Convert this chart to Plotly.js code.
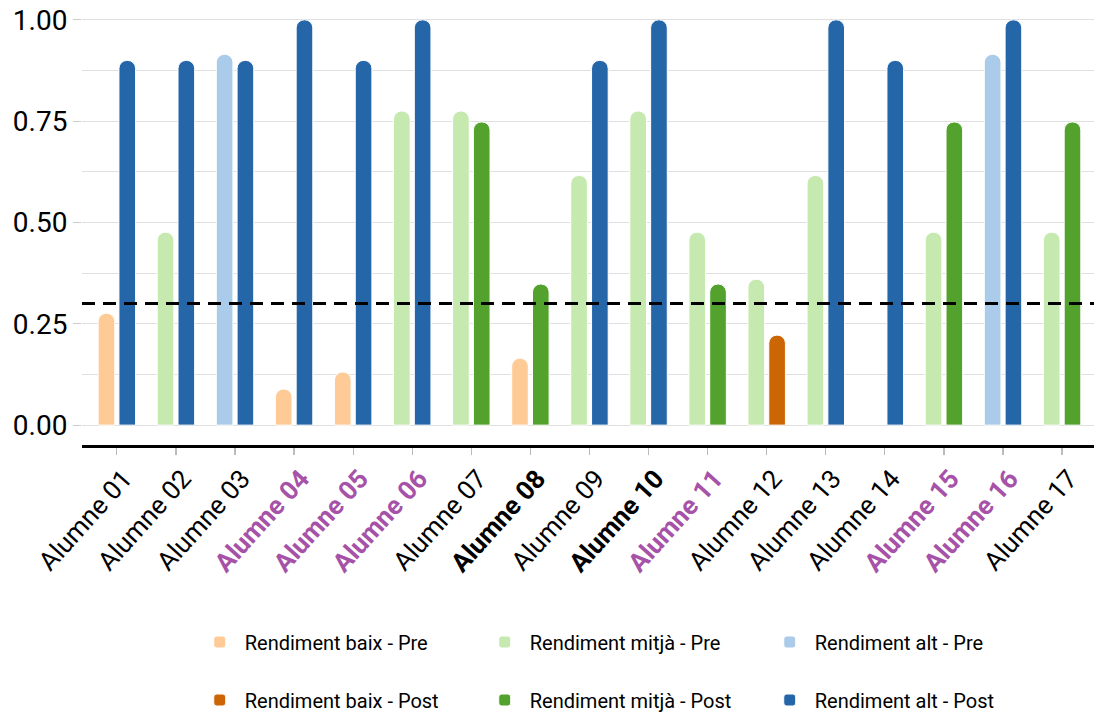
<!DOCTYPE html>
<html>
<head>
<meta charset="utf-8">
<script src="https://cdn.plot.ly/plotly-3.0.1.min.js"></script>
<style>html,body{margin:0;padding:0;background:#fff;}#chart{width:1094px;height:715px;}</style>
</head>
<body>
<div id="chart"></div>
<script>
const students = ['Alumne 01','Alumne 02','Alumne 03','Alumne 04','Alumne 05','Alumne 06','Alumne 07','Alumne 08','Alumne 09','Alumne 10','Alumne 11','Alumne 12','Alumne 13','Alumne 14','Alumne 15','Alumne 16','Alumne 17'];
const preValues  = [0.276, 0.476, 0.915, 0.089, 0.131, 0.775, 0.775, 0.165, 0.616, 0.775, 0.476, 0.36, 0.616, null, 0.476, 0.915, 0.476];
const preLevels  = ['baix','mitjà','alt','baix','baix','mitjà','mitjà','baix','mitjà','mitjà','mitjà','mitjà','mitjà',null,'mitjà','alt','mitjà'];
const postValues = [0.9, 0.9, 0.9, 1.0, 0.9, 1.0, 0.748, 0.348, 0.9, 1.0, 0.348, 0.222, 1.0, 0.9, 0.748, 1.0, 0.748];
const postLevels = ['alt','alt','alt','alt','alt','alt','mitjà','mitjà','alt','alt','mitjà','baix','alt','alt','mitjà','alt','mitjà'];
const purpleStudents = ['Alumne 04','Alumne 05','Alumne 06','Alumne 11','Alumne 15','Alumne 16'];
const boldStudents = ['Alumne 08','Alumne 10'];
const levels = ['baix','mitjà','alt'];
const threshold = 0.3;
const yTicks = [0, 0.25, 0.5, 0.75, 1.0];
const yTickText = ['0.00','0.25','0.50','0.75','1.00'];

const colors = {
  Pre:  {baix:'#fecb96', 'mitjà':'#c6e9af', alt:'#abcbeb'},
  Post: {baix:'#cc6604', 'mitjà':'#53a22d', alt:'#2566a8'}
};

const traces = [];
[['Pre', preValues, preLevels, 'legend'], ['Post', postValues, postLevels, 'legend2']].forEach(([phase, vals, lv, leg]) => {
  levels.forEach(level => {
    traces.push({
      type: 'bar',
      name: 'Rendiment ' + level + ' - ' + phase,
      x: students,
      y: vals.map((v, i) => lv[i] === level ? v : null),
      offsetgroup: phase,
      legend: leg,
      marker: {color: colors[phase][level], cornerradius: 8, line: {color: '#ffffff', width: 1}},
      hoverinfo: 'x+y+name'
    });
  });
});

const tickText = students.map(s => {
  if (purpleStudents.includes(s)) return '<b><span style="color:#a652a8">' + s + '</span></b>';
  if (boldStudents.includes(s)) return '<b>' + s + '</b>';
  return s;
});

const layout = {
  width: 1094, height: 715,
  margin: {l: 82, r: 0, t: 0, b: 270},
  paper_bgcolor: '#ffffff', plot_bgcolor: '#ffffff',
  font: {family: 'Roboto, sans-serif', color: '#000000'},
  barmode: 'group',
  bargap: 0.296,
  bargroupgap: 0.2,
  showlegend: true,
  xaxis: {
    type: 'category',
    range: [-0.59, 16.54],
    tickvals: students, ticktext: tickText,
    tickangle: -48,
    tickfont: {size: 26, color: '#000000'},
    ticklabelshift: 7,
    ticklabelstandoff: -2,
    showline: true, linecolor: '#000000', linewidth: 3,
    ticks: 'outside', ticklen: 7, tickcolor: '#bbbbbb', tickwidth: 1.2,
    showgrid: false, zeroline: false, fixedrange: true
  },
  yaxis: {
    range: [-0.049, 1.049],
    tickvals: yTicks, ticktext: yTickText,
    tickfont: {size: 28, color: '#000000'},
    ticks: 'outside', ticklen: 8, tickcolor: '#cccccc', tickwidth: 1.2,
    showgrid: true, gridcolor: '#e0e0e0', gridwidth: 1,
    minor: {dtick: 0.125, tick0: 0, showgrid: true, gridcolor: '#e0e0e0', gridwidth: 1, ticks: ''},
    zeroline: false, showline: false, fixedrange: true
  },
  shapes: [{
    type: 'line', xref: 'paper', yref: 'y', x0: 0, x1: 1, y0: threshold, y1: threshold,
    line: {color: '#000000', width: 3, dash: '13px,8px'}, layer: 'above'
  }],
  legend: {
    orientation: 'h', xref: 'container', yref: 'container',
    x: 0.178, y: 1 - 642/715, xanchor: 'left', yanchor: 'middle',
    font: {size: 20, color: '#000000'},
    entrywidth: 230, entrywidthmode: 'pixels', itemwidth: 40,
    bgcolor: 'rgba(0,0,0,0)', borderwidth: 0
  },
  legend2: {
    orientation: 'h', xref: 'container', yref: 'container',
    x: 0.178, y: 1 - 700/715, xanchor: 'left', yanchor: 'middle',
    font: {size: 20, color: '#000000'},
    entrywidth: 230, entrywidthmode: 'pixels', itemwidth: 40,
    bgcolor: 'rgba(0,0,0,0)', borderwidth: 0
  }
};

Plotly.newPlot('chart', traces, layout, {displayModeBar: false, staticPlot: true});
</script>
</body>
</html>
